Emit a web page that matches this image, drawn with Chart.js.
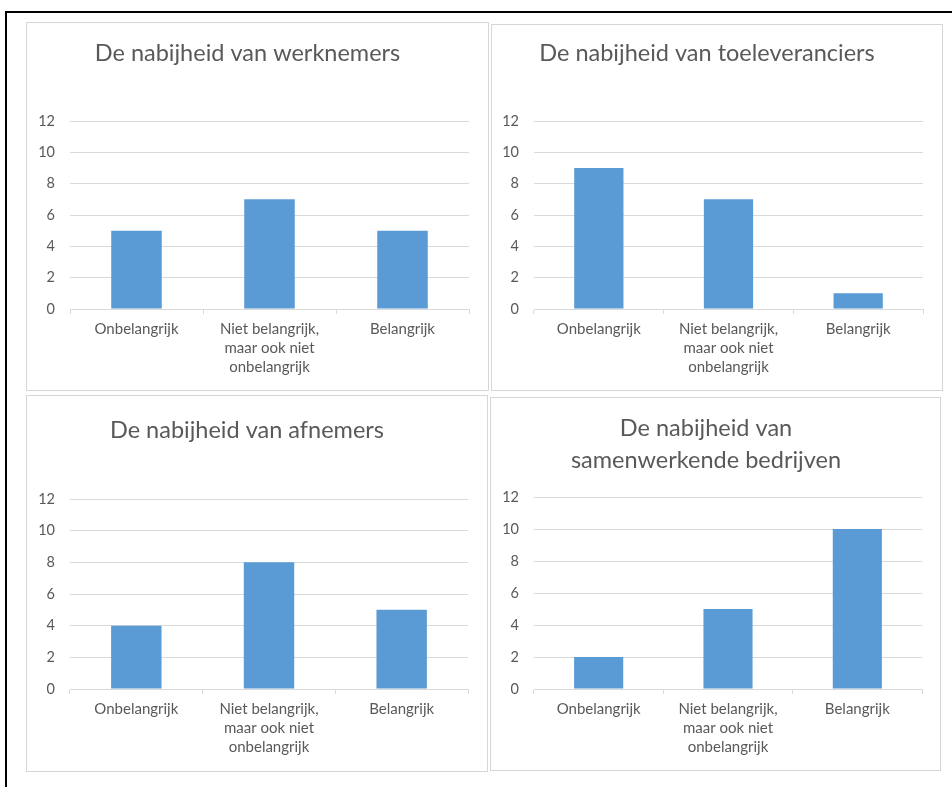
<!DOCTYPE html>
<html>
<head>
<meta charset="utf-8">
<script src="https://cdn.jsdelivr.net/npm/chart.js@4.4.1/dist/chart.umd.min.js"></script>
<style>
  body { margin: 0; background: #fff; width: 952px; height: 787px; overflow: hidden; position: relative; }
  .frame { position: absolute; left: 5px; top: 11px; width: 960px; height: 800px; border-top: 2px solid #000; border-left: 2px solid #000; }
  .panel { position: absolute; box-sizing: border-box; border: 1px solid #d6d6d6; background: #fff; }
  .panel canvas { position: absolute; left: -1px; top: -1px; }
</style>
</head>
<body>
<div class="frame"></div>
<div class="panel" id="p1"><canvas id="c1"></canvas></div>
<div class="panel" id="p2"><canvas id="c2"></canvas></div>
<div class="panel" id="p3"><canvas id="c3"></canvas></div>
<div class="panel" id="p4"><canvas id="c4"></canvas></div>
<script>
// categories shared by all four charts
const categories = [
  'Onbelangrijk',
  ['Niet belangrijk,', 'maar ook niet', 'onbelangrijk'],
  'Belangrijk',
];
const yTicks = [0, 2, 4, 6, 8, 10, 12];

const werknemers = [5, 7, 5];
const toeleveranciers = [9, 7, 1];
const afnemers = [4, 8, 5];
const samenwerkende = [2, 5, 10];

const titles = [
  'De nabijheid van werknemers',
  'De nabijheid van toeleveranciers',
  'De nabijheid van afnemers',
  ['De nabijheid van', 'samenwerkende bedrijven'],
];

const GREY_TEXT = '#595959';
const GRID = '#d9d9d9';
const BAR = '#5b9bd5';
const FONT = 'Lato, "Liberation Sans", sans-serif';
const TITLE_SIZE = 23.5;
const TITLE_LH = 1.36;

// panel boxes and plot area edges, page coordinates
const layouts = [
  { x: 26, y: 22, w: 463, h: 369, left: 70, right: 469, top: 121, bottom: 309, titleY: 53 },
  { x: 491, y: 24, w: 452, h: 367, left: 534, right: 923, top: 121, bottom: 309, titleY: 53 },
  { x: 26, y: 395, w: 462, h: 377, left: 70, right: 468, top: 499, bottom: 689, titleY: 430 },
  { x: 490, y: 397, w: 451, h: 374, left: 534, right: 922, top: 497, bottom: 689, titleY: 428 },
];

function makeChart(idx, values) {
  const L = layouts[idx];
  const panel = document.getElementById('p' + (idx + 1));
  Object.assign(panel.style, { left: L.x + 'px', top: L.y + 'px', width: L.w + 'px', height: L.h + 'px' });
  const canvas = document.getElementById('c' + (idx + 1));
  canvas.width = L.w;
  canvas.height = L.h;

  const title = titles[idx];
  const lines = Array.isArray(title) ? title.length : 1;
  const lh = TITLE_SIZE * TITLE_LH;
  const padTop = (L.titleY - L.y) - lh / 2;
  const padBottom = (L.top - L.y) - padTop - lines * lh;

  new Chart(canvas, {
    type: 'bar',
    data: {
      labels: categories,
      datasets: [{
        data: values,
        backgroundColor: BAR,
        borderWidth: 0,
        barPercentage: 0.38,
        categoryPercentage: 1,
      }],
    },
    options: {
      responsive: false,
      animation: false,
      devicePixelRatio: 1,
      layout: {
        autoPadding: false,
        padding: { left: 0, top: 0, bottom: 0, right: (L.x + L.w) - L.right },
      },
      plugins: {
        legend: { display: false },
        tooltip: { enabled: false },
        title: {
          display: true,
          text: title,
          color: GREY_TEXT,
          font: { family: FONT, size: TITLE_SIZE, weight: 'normal', lineHeight: TITLE_LH },
          padding: { top: padTop, bottom: padBottom },
        },
      },
      scales: {
        x: {
          grid: { offset: true, drawOnChartArea: false, drawTicks: true, tickLength: 5, color: GRID },
          border: { color: GRID },
          ticks: {
            color: GREY_TEXT,
            font: { family: FONT, size: 15, lineHeight: 1.27 },
            padding: 6,
            maxRotation: 0,
            autoSkip: false,
          },
          afterFit: (s) => { s.height = (L.y + L.h) - L.bottom; },
        },
        y: {
          min: 0,
          max: 12,
          afterBuildTicks: (s) => { s.ticks = yTicks.map((v) => ({ value: v })); },
          grid: { color: GRID, drawTicks: false },
          border: { display: false },
          ticks: {
            color: GREY_TEXT,
            font: { family: FONT, size: 14.5 },
            padding: 15,
          },
          afterFit: (s) => { s.width = L.left - L.x; },
        },
      },
    },
  });
}

makeChart(0, werknemers);
makeChart(1, toeleveranciers);
makeChart(2, afnemers);
makeChart(3, samenwerkende);
</script>
</body>
</html>
